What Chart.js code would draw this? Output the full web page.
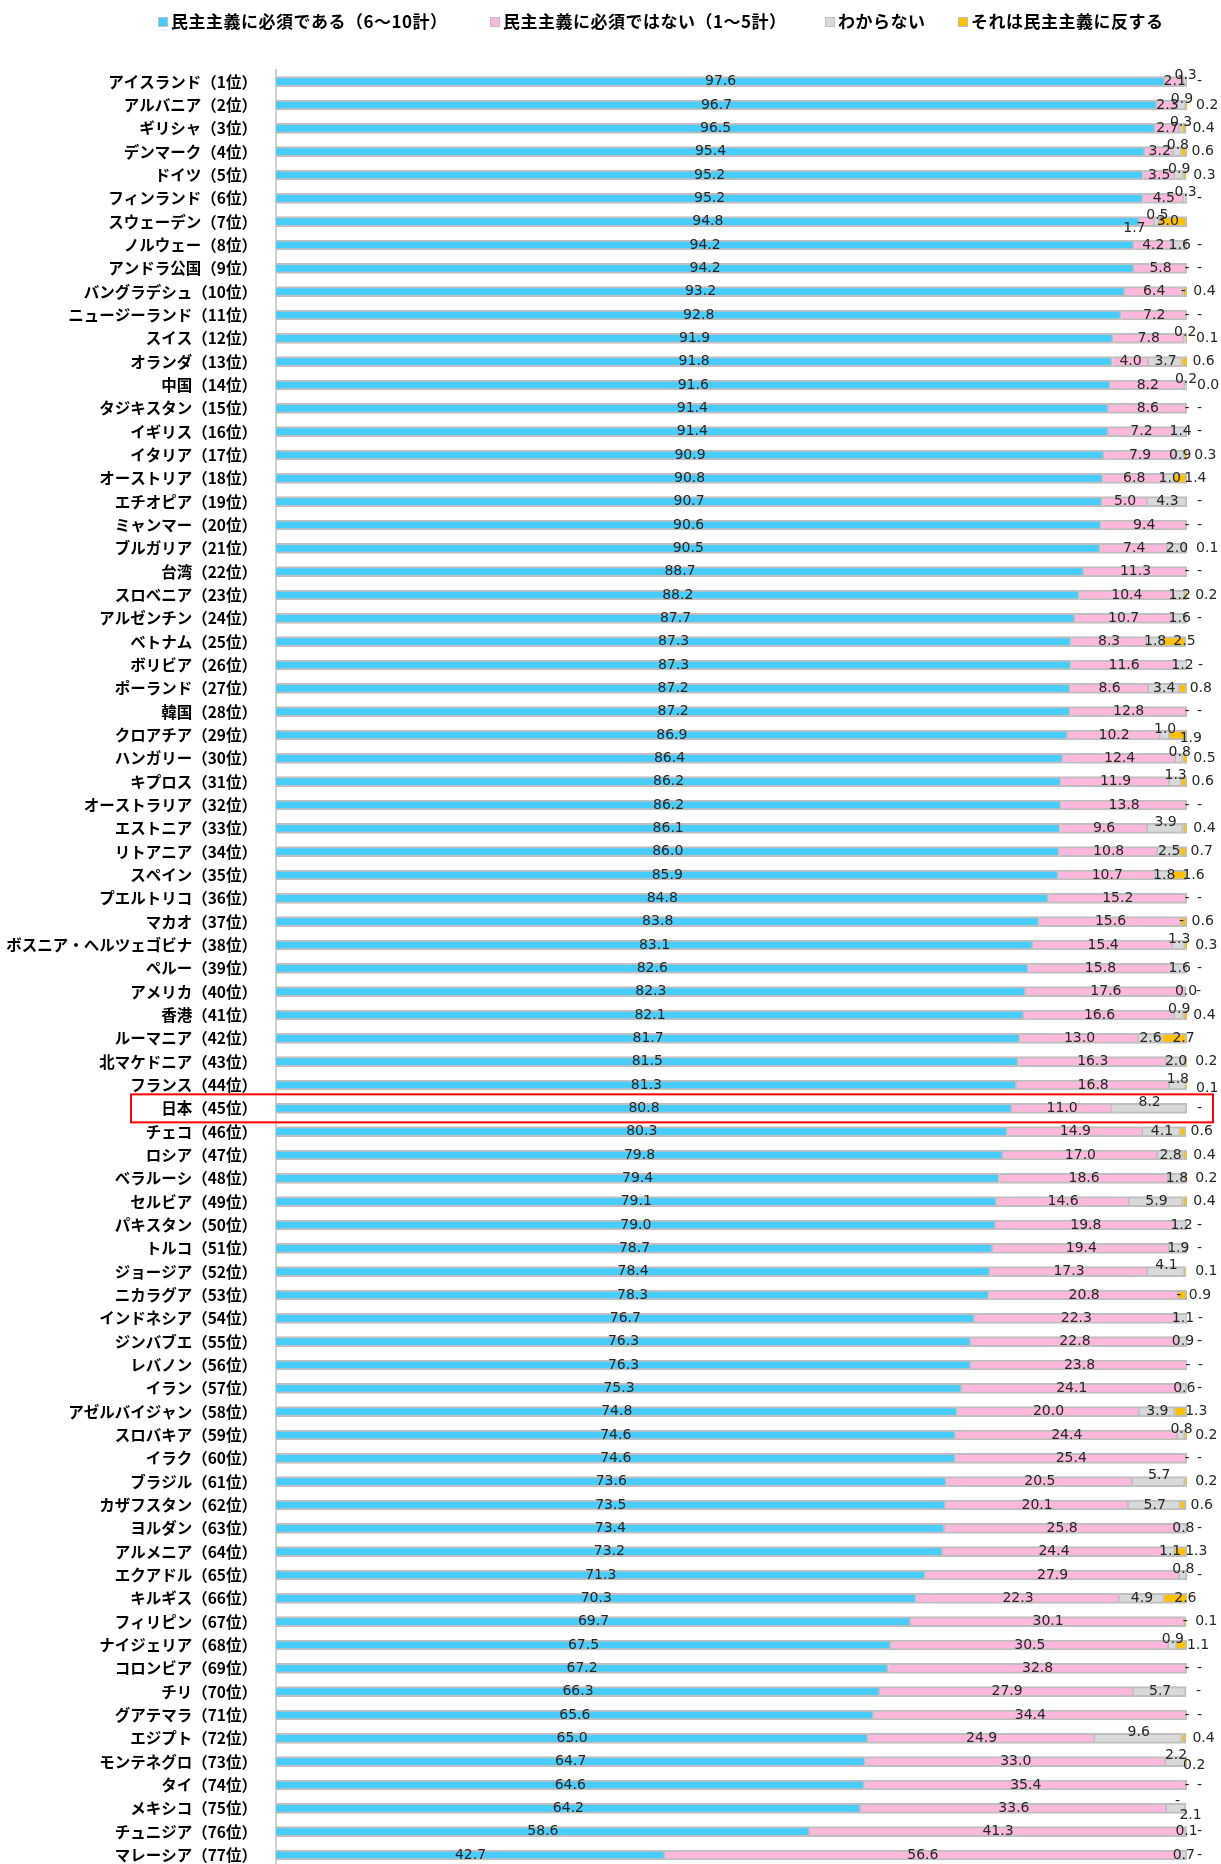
<!DOCTYPE html>
<html lang="ja">
<head>
<meta charset="utf-8">
<title>民主主義に必須であるか</title>
<script src="https://cdn.jsdelivr.net/npm/chart.js@4.4.1/dist/chart.umd.min.js"></script>
<style>
  html, body { margin: 0; padding: 0; background: #fff; overflow: hidden; }
  #wrap { width: 1221px; height: 1895px; }
</style>
</head>
<body>
<div id="wrap"><canvas id="chart" width="1221" height="1895"></canvas></div>
<script>
// --- データ ---
const countries = [
  'アイスランド', 'アルバニア', 'ギリシャ', 'デンマーク', 'ドイツ', 'フィンランド', 'スウェーデン', 'ノルウェー', 'アンドラ公国', 'バングラデシュ',
  'ニュージーランド', 'スイス', 'オランダ', '中国', 'タジキスタン', 'イギリス', 'イタリア', 'オーストリア', 'エチオピア', 'ミャンマー',
  'ブルガリア', '台湾', 'スロベニア', 'アルゼンチン', 'ベトナム', 'ボリビア', 'ポーランド', '韓国', 'クロアチア', 'ハンガリー',
  'キプロス', 'オーストラリア', 'エストニア', 'リトアニア', 'スペイン', 'プエルトリコ', 'マカオ', 'ボスニア・ヘルツェゴビナ', 'ペルー', 'アメリカ',
  '香港', 'ルーマニア', '北マケドニア', 'フランス', '日本', 'チェコ', 'ロシア', 'ベラルーシ', 'セルビア', 'パキスタン',
  'トルコ', 'ジョージア', 'ニカラグア', 'インドネシア', 'ジンバブエ', 'レバノン', 'イラン', 'アゼルバイジャン', 'スロバキア', 'イラク',
  'ブラジル', 'カザフスタン', 'ヨルダン', 'アルメニア', 'エクアドル', 'キルギス', 'フィリピン', 'ナイジェリア', 'コロンビア', 'チリ',
  'グアテマラ', 'エジプト', 'モンテネグロ', 'タイ', 'メキシコ', 'チュニジア', 'マレーシア'
];

// 民主主義に必須である（6〜10計）
const essential = [
  97.6, 96.7, 96.5, 95.4, 95.2, 95.2, 94.8, 94.2, 94.2, 93.2,
  92.8, 91.9, 91.8, 91.6, 91.4, 91.4, 90.9, 90.8, 90.7, 90.6,
  90.5, 88.7, 88.2, 87.7, 87.3, 87.3, 87.2, 87.2, 86.9, 86.4,
  86.2, 86.2, 86.1, 86.0, 85.9, 84.8, 83.8, 83.1, 82.6, 82.3,
  82.1, 81.7, 81.5, 81.3, 80.8, 80.3, 79.8, 79.4, 79.1, 79.0,
  78.7, 78.4, 78.3, 76.7, 76.3, 76.3, 75.3, 74.8, 74.6, 74.6,
  73.6, 73.5, 73.4, 73.2, 71.3, 70.3, 69.7, 67.5, 67.2, 66.3,
  65.6, 65.0, 64.7, 64.6, 64.2, 58.6, 42.7
];

// 民主主義に必須ではない（1〜5計）
const notEssential = [
  2.1, 2.3, 2.7, 3.2, 3.5, 4.5, 1.7, 4.2, 5.8, 6.4,
  7.2, 7.8, 4.0, 8.2, 8.6, 7.2, 7.9, 6.8, 5.0, 9.4,
  7.4, 11.3, 10.4, 10.7, 8.3, 11.6, 8.6, 12.8, 10.2, 12.4,
  11.9, 13.8, 9.6, 10.8, 10.7, 15.2, 15.6, 15.4, 15.8, 17.6,
  16.6, 13.0, 16.3, 16.8, 11.0, 14.9, 17.0, 18.6, 14.6, 19.8,
  19.4, 17.3, 20.8, 22.3, 22.8, 23.8, 24.1, 20.0, 24.4, 25.4,
  20.5, 20.1, 25.8, 24.4, 27.9, 22.3, 30.1, 30.5, 32.8, 27.9,
  34.4, 24.9, 33.0, 35.4, 33.6, 41.3, 56.6
];

// わからない（null は「-」）
const dontKnow = [
  0.3, 0.9, 0.3, 0.8, 0.9, 0.3, 0.5, 1.6, null, null,
  null, 0.2, 3.7, 0.2, null, 1.4, 0.9, 1.0, 4.3, null,
  2.0, null, 1.2, 1.6, 1.8, 1.2, 3.4, null, 1.0, 0.8,
  1.3, null, 3.9, 2.5, 1.8, null, null, 1.3, 1.6, 0.0,
  0.9, 2.6, 2.0, 1.8, 8.2, 4.1, 2.8, 1.8, 5.9, 1.2,
  1.9, 4.1, null, 1.1, 0.9, null, 0.6, 3.9, 0.8, null,
  5.7, 5.7, 0.8, 1.1, 0.8, 4.9, null, 0.9, null, 5.7,
  null, 9.6, 2.2, null, 2.1, 0.1, 0.7
];

// それは民主主義に反する（null は「-」）
const against = [
  null, 0.2, 0.4, 0.6, 0.3, null, 3.0, null, null, 0.4,
  null, 0.1, 0.6, 0.0, null, null, 0.3, 1.4, null, null,
  0.1, null, 0.2, null, 2.5, null, 0.8, null, 1.9, 0.5,
  0.6, null, 0.4, 0.7, 1.6, null, 0.6, 0.3, null, null,
  0.4, 2.7, 0.2, 0.1, null, 0.6, 0.4, 0.2, 0.4, null,
  null, 0.1, 0.9, null, null, null, null, 1.3, 0.2, null,
  0.2, 0.6, null, 1.3, null, 2.6, 0.1, 1.1, null, null,
  null, 0.4, 0.2, null, null, null, null
];

const seriesNames = ['民主主義に必須である（6〜10計）', '民主主義に必須ではない（1〜5計）', 'わからない', 'それは民主主義に反する'];
const highlightCountry = '日本';
// --- データここまで ---

const seriesColors = ['#47CCFC', '#FFB7DB', '#D9D9D9', '#FFC000'];
const legendX = [158, 490, 825, 958];

// ラベル位置の手動調整（元のExcelグラフに合わせる）
const raisedGray = new Set(['アイスランド', 'アルバニア', 'ギリシャ', 'デンマーク', 'ドイツ', 'フィンランド', 'スウェーデン',
  'スイス', '中国', 'クロアチア', 'ハンガリー', 'キプロス', 'エストニア', 'ボスニア・ヘルツェゴビナ', '香港', 'フランス',
  '日本', 'ジョージア', 'スロバキア', 'ブラジル', 'エクアドル', 'ナイジェリア', 'エジプト', 'モンテネグロ']);
const labelNudges = {
  'スウェーデン|1': { dx: -13, dy: 7 },
  'スウェーデン|3': { dx: -13 },
  'クロアチア|3': { dy: 3 },
  'フランス|3': { dy: 3 },
  'モンテネグロ|3': { dx: -13, dy: 4 },
  'メキシコ|2': { dx: 14, dy: 7 },
  'メキシコ|3': { dx: -21, dy: -7 }
};

const fmt = (v) => (v == null ? '-' : v.toFixed(1));

// 値ラベル
const valueLabels = {
  id: 'valueLabels',
  afterDatasetsDraw(chart) {
    const { ctx, scales: { x, y } } = chart;
    ctx.save();
    ctx.font = '14px "DejaVu Sans"';
    ctx.fillStyle = '#262626';
    ctx.textBaseline = 'middle';
    countries.forEach((name, i) => {
      let sum = 0;
      chart.data.datasets.forEach((ds, s) => {
        const v = ds.data[i];
        const start = x.getPixelForValue(sum);
        sum += v || 0;
        const end = x.getPixelForValue(sum);
        let px = (start + end) / 2;
        let py = y.getPixelForValue(i);
        let align = 'center';
        if (s === 3) { px = start + 10; align = 'left'; }
        if (s === 2 && raisedGray.has(name)) py -= 6;
        const n = labelNudges[name + '|' + s];
        if (n) { px += n.dx || 0; py += n.dy || 0; }
        ctx.textAlign = align;
        ctx.fillText(fmt(v), px, py);
      });
    });
    ctx.restore();
  }
};

// 凡例
const legendItems = {
  id: 'legendItems',
  afterDraw(chart) {
    const ctx = chart.ctx;
    ctx.save();
    ctx.font = 'bold 17px "Noto Sans CJK JP"';
    ctx.letterSpacing = '0.5px';
    ctx.textBaseline = 'middle';
    ctx.textAlign = 'left';
    chart.data.datasets.forEach((ds, s) => {
      const bx = legendX[s], by = 22;
      ctx.fillStyle = ds.backgroundColor;
      ctx.fillRect(bx, by - 5, 10, 10);
      ctx.strokeStyle = '#BFBFBF';
      ctx.lineWidth = 1;
      ctx.strokeRect(bx + 0.5, by - 4.5, 9, 9);
      ctx.fillStyle = '#000';
      ctx.fillText(ds.label, bx + 13, by);
    });
    ctx.restore();
  }
};

// 日本の行を赤枠で囲む
const highlightBox = {
  id: 'highlightBox',
  afterDraw(chart) {
    const { ctx, chartArea, scales: { y } } = chart;
    const cy = y.getPixelForValue(countries.indexOf(highlightCountry));
    ctx.save();
    ctx.strokeStyle = '#FF0000';
    ctx.lineWidth = 2;
    ctx.strokeRect(131, cy - 14, chartArea.right + 26 - 131, 28);
    ctx.restore();
  }
};

const datasets = [essential, notEssential, dontKnow, against].map((data, s) => ({
  label: seriesNames[s],
  data,
  backgroundColor: seriesColors[s],
  borderColor: '#BFBFBF',
  borderWidth: 2,
  borderSkipped: 'start',
  barThickness: 10
}));

new Chart(document.getElementById('chart'), {
  type: 'bar',
  data: { labels: countries.map((c, i) => `${c}（${i + 1}位）`), datasets },
  options: {
    indexAxis: 'y',
    responsive: false,
    animation: false,
    devicePixelRatio: 1,
    // 最後の行は画面下端で切れる（元画像と同じ）
    layout: { autoPadding: false, padding: { top: 70, bottom: 0, right: 34, left: 0 } },
    plugins: { legend: { display: false }, tooltip: { enabled: false } },
    scales: {
      x: { stacked: true, min: 0, max: 100, display: false },
      y: {
        stacked: true,
        afterFit: (scale) => { scale.width = 276; },
        grid: { display: false, drawTicks: false },
        border: { display: true, color: '#D0D0D0', width: 2 },
        ticks: {
          autoSkip: false,
          padding: 19,
          color: '#000',
          font: { family: '"Noto Sans CJK JP"', size: 15.5, weight: 'bold' }
        }
      }
    }
  },
  plugins: [valueLabels, legendItems, highlightBox]
});
</script>
</body>
</html>
